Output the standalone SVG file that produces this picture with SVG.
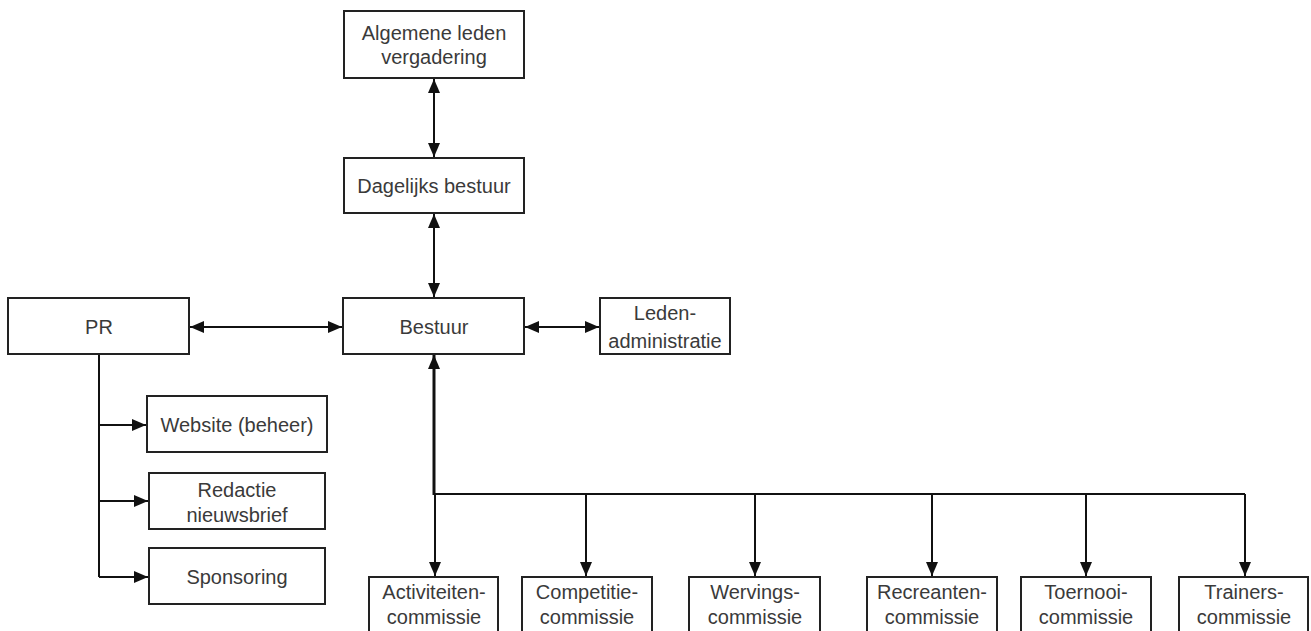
<svg xmlns="http://www.w3.org/2000/svg" width="1311" height="631" viewBox="0 0 1311 631">
<style>
.box{fill:#fff;stroke:#222;stroke-width:2}
.t{font-family:"Liberation Sans",Arial,sans-serif;font-size:20px;fill:#3a3a3a;text-anchor:middle}
.c{fill:none;stroke:#111;stroke-width:2}
.thick{stroke-width:3}
</style>
<defs>
<marker id="ah" viewBox="0 0 14 14" refX="14" refY="7" markerWidth="14" markerHeight="14" markerUnits="userSpaceOnUse" orient="auto-start-reverse">
<path d="M0,1 L14,7 L0,13 z" fill="#111"/>
</marker>
</defs>
<rect width="1311" height="631" fill="#fff"/>
<g id="connectors">
<line class="c" x1="434" y1="79" x2="434" y2="157" marker-start="url(#ah)" marker-end="url(#ah)"/>
<line class="c" x1="434" y1="214" x2="434" y2="297" marker-start="url(#ah)" marker-end="url(#ah)"/>
<line class="c" x1="190" y1="327" x2="342" y2="327" marker-start="url(#ah)" marker-end="url(#ah)"/>
<line class="c" x1="525" y1="327" x2="599" y2="327" marker-start="url(#ah)" marker-end="url(#ah)"/>
<path class="c" d="M99,354 V577"/>
<line class="c" x1="99" y1="425" x2="146" y2="425" marker-end="url(#ah)"/>
<line class="c" x1="99" y1="501" x2="148" y2="501" marker-end="url(#ah)"/>
<line class="c" x1="99" y1="577" x2="148" y2="577" marker-end="url(#ah)"/>
<line class="c thick" x1="434" y1="495" x2="434" y2="355" marker-end="url(#ah)"/>
<path class="c" d="M434,494 H1245" stroke-width="2.5"/>
<line class="c" x1="435" y1="494" x2="435" y2="576" marker-end="url(#ah)"/>
<line class="c" x1="586" y1="494" x2="586" y2="576" marker-end="url(#ah)"/>
<line class="c" x1="755" y1="494" x2="755" y2="576" marker-end="url(#ah)"/>
<line class="c" x1="932" y1="494" x2="932" y2="576" marker-end="url(#ah)"/>
<line class="c" x1="1086" y1="494" x2="1086" y2="576" marker-end="url(#ah)"/>
<line class="c" x1="1245" y1="494" x2="1245" y2="576" marker-end="url(#ah)"/>
</g>
<g id="n-alv"><rect class="box" x="344" y="11" width="180" height="67"/><text class="t" x="434" y="40">Algemene leden</text><text class="t" x="434" y="64">vergadering</text></g>
<g id="n-db"><rect class="box" x="344" y="158" width="180" height="55"/><text class="t" x="434" y="193">Dagelijks bestuur</text></g>
<g id="n-bestuur"><rect class="box" x="343" y="298" width="181" height="56"/><text class="t" x="434" y="334">Bestuur</text></g>
<g id="n-leden"><rect class="box" x="600" y="298" width="130" height="56"/><text class="t" x="665" y="320">Leden-</text><text class="t" x="665" y="348">administratie</text></g>
<g id="n-pr"><rect class="box" x="8" y="298" width="181" height="56"/><text class="t" x="99" y="334">PR</text></g>
<g id="n-website"><rect class="box" x="147" y="396" width="180" height="56"/><text class="t" x="237" y="432">Website (beheer)</text></g>
<g id="n-redactie"><rect class="box" x="149" y="473" width="176" height="56"/><text class="t" x="237" y="497">Redactie</text><text class="t" x="237" y="522">nieuwsbrief</text></g>
<g id="n-sponsoring"><rect class="box" x="149" y="548" width="176" height="56"/><text class="t" x="237" y="584">Sponsoring</text></g>
<g id="n-act"><rect class="box" x="369" y="577" width="129" height="70"/><text class="t" x="434" y="599">Activiteiten-</text><text class="t" x="434" y="624">commissie</text></g>
<g id="n-comp"><rect class="box" x="522" y="577" width="130" height="70"/><text class="t" x="587" y="599">Competitie-</text><text class="t" x="587" y="624">commissie</text></g>
<g id="n-werv"><rect class="box" x="689" y="577" width="131" height="70"/><text class="t" x="755" y="599">Wervings-</text><text class="t" x="755" y="624">commissie</text></g>
<g id="n-recr"><rect class="box" x="867" y="577" width="130" height="70"/><text class="t" x="932" y="599">Recreanten-</text><text class="t" x="932" y="624">commissie</text></g>
<g id="n-toer"><rect class="box" x="1021" y="577" width="130" height="70"/><text class="t" x="1086" y="599">Toernooi-</text><text class="t" x="1086" y="624">commissie</text></g>
<g id="n-train"><rect class="box" x="1179" y="577" width="129" height="70"/><text class="t" x="1244" y="599">Trainers-</text><text class="t" x="1244" y="624">commissie</text></g>
</svg>
